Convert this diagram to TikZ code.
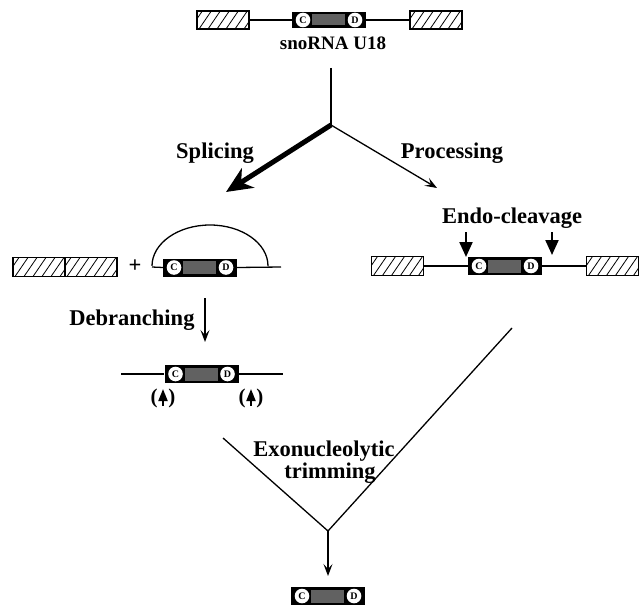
\documentclass[tikz,border=0pt]{standalone}
\usepackage{fontspec}
\setmainfont{Liberation Serif}
\usetikzlibrary{arrows.meta}
\begin{document}
\begin{tikzpicture}[x=1pt,y=-1pt,
  lbl/.style={font=\fontsize{22.5}{24}\selectfont\bfseries, inner sep=0pt, anchor=base},
  cd/.style={font=\fontsize{10}{10}\selectfont\bfseries, inner sep=0pt},
  snobox/.style={rectangle, fill=black, minimum width=74pt, minimum height=18pt, inner sep=0pt,
    path picture={
      \fill[black!62] ([xshift=20pt,yshift=2.5pt]path picture bounding box.south west) rectangle ([xshift=-21pt,yshift=-2.5pt]path picture bounding box.north east);
      \fill[white] ([xshift=11pt]path picture bounding box.west) circle (7.3pt);
      \fill[white] ([xshift=-11pt]path picture bounding box.east) circle (7.3pt);
      \node[cd] at ([xshift=11pt]path picture bounding box.west) {C};
      \node[cd] at ([xshift=-11pt]path picture bounding box.east) {D};
    }},
  hatch/.style={rectangle, draw, line width=1.2pt, minimum width=52pt, minimum height=19pt, inner sep=0pt,
    path picture={
      \foreach \k in {-2,...,6}
        \draw[line width=0.8pt] ([xshift=\k*9pt+2pt]path picture bounding box.south west) -- ++(13pt,19pt);
    }},
  ln/.style={line width=1.3pt},
  thinarrow/.style={line width=1.3pt, -{Stealth[length=12pt,width=9pt,inset=5pt]}},
  endo/.style={line width=2.2pt, -{Triangle[length=15pt,width=13pt]}},
  uparr/.style={line width=1.8pt, -{Triangle[length=12pt,width=9pt]}},
]
\useasboundingbox (0,0) rectangle (640,607);

% ---- top: precursor ----
\node[hatch, minimum height=18pt] (tl) at (223,20) {};
\node[snobox, minimum height=16pt] (tc) at (329,20) {};
\node[hatch, minimum height=18pt] (tr) at (436,20) {};
\draw[ln] (tl.east) -- (tc.west);
\draw[ln] (tc.east) -- (tr.west);
\node[lbl, font=\fontsize{19}{21}\selectfont\bfseries] (sno) at (333,50) {snoRNA U18};

% ---- branch ----
\coordinate (top) at (331,68);
\coordinate (br) at (331,125);
\coordinate (splend) at (226,192);
\coordinate (procend) at (437,188);
\draw[ln] (top) -- (br);
\draw[line width=5pt, -{Stealth[length=26pt,width=23pt,inset=8pt]}] (br) -- (splend);
\draw[thinarrow] (br) -- (procend);
\node[lbl] (spl) at (215,158) {Splicing};
\node[lbl] (proc) at (452,158) {Processing};

% ---- left: splicing products ----
\node[hatch] (h1) at (39,267) {};
\node[hatch] (h2) at (91,267) {};
\node[lbl, anchor=center] (plus) at (135,266) {+};
\coordinate (lA) at (152,267);
\node[snobox] (lm) at (200,267.5) {};
\coordinate (lB) at (281,267);
\draw[ln] (lA) -- (lm.west);
\draw[ln] (lm.east) -- (lB);
\draw[ln] (lA) ++(0,-1) arc[start angle=180, end angle=0, x radius=58pt, y radius=41pt];

% ---- debranching ----
\coordinate (d1) at (205,298);
\coordinate (d2) at (205,342);
\draw[thinarrow] (d1) -- (d2);
\node[lbl] (deb) at (132,325) {Debranching};

\coordinate (b1) at (121,374);
\node[snobox] (bl) at (201.5,374) {};
\coordinate (b2) at (283,374);
\draw[ln] (b1) -- (bl.west);
\draw[ln] (bl.east) -- (b2);
\node[font=\fontsize{21}{22}\selectfont\bfseries, inner sep=0pt] (pa1) at (163,398) {(\hspace{11pt})};
\node[font=\fontsize{21}{22}\selectfont\bfseries, inner sep=0pt] (pa2) at (251,398) {(\hspace{11pt})};
\draw[uparr] ([yshift=-8pt]pa1.center) -- ([yshift=9pt]pa1.center);
\draw[uparr] ([yshift=-8pt]pa2.center) -- ([yshift=9pt]pa2.center);

% ---- right: processing ----
\node[lbl] (endo) at (512,223) {Endo-cleavage};
\node[hatch] (hl) at (397.5,266) {};
\node[snobox] (rc) at (505,266) {};
\node[hatch] (hr) at (612.5,266) {};
\draw[ln] (hl.east) -- (rc.west);
\draw[ln] (rc.east) -- (hr.west);
\coordinate (e1s) at (466,232);
\coordinate (e1t) at (466,257);
\coordinate (e2s) at (552,232);
\coordinate (e2t) at (552,255);
\draw[endo] (e1s) -- (e1t);
\draw[endo] (e2s) -- (e2t);

% ---- exonucleolytic trimming ----
\coordinate (vl) at (223,438);
\coordinate (vr) at (512,328);
\coordinate (vx) at (328,531);
\coordinate (ve) at (328,576);
\draw[ln] (vl) -- (vx) -- (vr);
\draw[thinarrow] (vx) -- (ve);
\node[lbl] (exo) at (324,456) {Exonucleolytic};
\node[lbl] (trim) at (330,478) {trimming};
\node[snobox] (fb) at (328,596) {};
\end{tikzpicture}
\end{document}
